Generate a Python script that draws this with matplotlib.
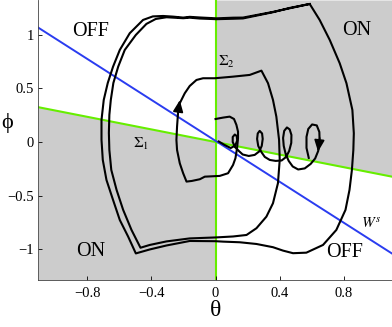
import numpy as np
import matplotlib
matplotlib.use('Agg')
import matplotlib.pyplot as plt

plt.rcParams['font.family'] = ['Liberation Serif', 'DejaVu Serif']
plt.rcParams['mathtext.fontset'] = 'stix'

# axis range and ticks
theta_lim = [-1.105, 1.1]
phi_lim = [-1.287, 1.325]
xticks = [-0.8, -0.4, 0, 0.4, 0.8]
xticklabels = ['\u22120.8', '\u22120.4', '0', '0.4', '0.8']
yticks = [-1, -0.5, 0, 0.5, 1]
yticklabels = ['\u22121', '\u22120.5', '0', '0.5', '1']

# switching line Sigma_1 and stable manifold W^s (end points)
sig1_theta = [-1.105, 1.1]
sig1_phi = [0.325, -0.323]
ws_theta = [-1.105, 1.1]
ws_phi = [1.067, -1.04]

# trajectory starting on Sigma_2 and spiralling out to the cycle
a_inner_theta = [0.0, 0.047, 0.088, 0.115, 0.130, 0.140, 0.140, 0.134, 0.124, 0.109, 0.078,
                 0.026, -0.067, -0.098, -0.148, -0.181, -0.202, -0.223, -0.240, -0.244,
                 -0.240, -0.234, -0.223, -0.192, -0.161, -0.119, -0.078, -0.005, 0.109,
                 0.213, 0.286, 0.327, 0.358, 0.379, 0.396, 0.400, 0.389, 0.358, 0.317,
                 0.255, 0.193, 0.109, 0.0, -0.161, -0.306, -0.410, -0.468]
a_inner_phi = [0.215, 0.228, 0.237, 0.215, 0.160, 0.097, 0.035, -0.058, -0.151, -0.214, -0.291,
               -0.316, -0.323, -0.347, -0.363, -0.369, -0.291, -0.198, -0.074, 0.020,
               0.144, 0.269, 0.362, 0.455, 0.523, 0.579, 0.595, 0.595, 0.610,
               0.626, 0.666, 0.549, 0.393, 0.237, 0.020, -0.167, -0.384, -0.571, -0.696,
               -0.804, -0.867, -0.881, -0.890, -0.899, -0.927, -0.960, -0.986]

a_lap1_theta = [-0.524, -0.576, -0.617, -0.650, -0.662, -0.665, -0.662, -0.653, -0.637,
                -0.607, -0.566, -0.497, -0.431, -0.373, -0.306, -0.202, -0.161, -0.098,
                0.006, 0.109, 0.171, 0.358, 0.462, 0.587,
                0.649, 0.712, 0.774, 0.816, 0.853, 0.862, 0.859, 0.850, 0.835, 0.810,
                0.753, 0.670, 0.566, 0.483, 0.421, 0.358, 0.255, 0.151, 0.047, 0.0,
                -0.161, -0.306, -0.410, -0.497]
a_lap1_phi = [-0.820, -0.633, -0.447, -0.260, -0.074, 0.085, 0.253, 0.393, 0.551,
              0.703, 0.859, 0.999, 1.102, 1.148, 1.164, 1.155, 1.160, 1.152,
              1.146, 1.150, 1.153, 1.211, 1.251, 1.288,
              1.139, 0.952, 0.735, 0.549, 0.299, 0.082, -0.074, -0.261, -0.447, -0.633,
              -0.820, -0.960, -1.032, -1.037, -1.013, -0.981, -0.951, -0.935, -0.929, -0.925,
              -0.923, -0.965, -1.002, -1.039]

a_lap2_theta = [-0.545, -0.597, -0.639, -0.680, -0.703, -0.711, -0.711, -0.697, -0.672,
                -0.639, -0.597, -0.535, -0.452, -0.391, -0.327, -0.265, -0.202, -0.161,
                -0.098, 0.006, 0.109, 0.171, 0.358, 0.587]
a_lap2_phi = [-0.882, -0.727, -0.540, -0.354, -0.167, 0.020, 0.206, 0.393, 0.551,
              0.703, 0.859, 1.015, 1.139, 1.172, 1.176, 1.170, 1.161, 1.168,
              1.162, 1.154, 1.160, 1.161, 1.214, 1.288]

# looping trajectory converging to the origin
b_theta = [0.581, 0.567, 0.567, 0.578, 0.602, 0.631, 0.647, 0.649, 0.640, 0.621, 0.593,
           0.556, 0.515, 0.481, 0.456, 0.437, 0.425, 0.421, 0.428, 0.445, 0.462, 0.473,
           0.472, 0.459, 0.440, 0.412, 0.375, 0.338, 0.307, 0.285, 0.266, 0.259, 0.263,
           0.275, 0.290, 0.294, 0.288, 0.272, 0.244, 0.207, 0.169, 0.145, 0.123, 0.107,
           0.107, 0.120, 0.132, 0.135, 0.123, 0.095, 0.057, 0.020]
b_phi = [-0.148, -0.055, 0.048, 0.122, 0.164, 0.155, 0.094, 0.001, -0.083, -0.153, -0.204,
         -0.246, -0.256, -0.228, -0.176, -0.111, -0.036, 0.038, 0.104, 0.136, 0.118, 0.066,
         -0.008, -0.083, -0.139, -0.172, -0.176, -0.167, -0.139, -0.092, -0.036, 0.029, 0.080,
         0.104, 0.080, 0.029, -0.036, -0.088, -0.120, -0.130, -0.116, -0.083, -0.050, 0.000,
         0.047, 0.070, 0.056, 0.014, -0.032, -0.056, -0.028, 0.005]

# arrow heads (tail, tip)
arrow_a = [(-0.236, 0.253), (-0.223, 0.39)]
arrow_b = [(0.649, 0.038), (0.639, -0.090)]

# region labels
labels = ['OFF', 'ON', 'ON', 'OFF']
label_theta = [-0.78, 0.878, -0.776, 0.805]
label_phi = [1.03, 1.043, -1.025, -1.03]

gray = '#cccccc'
green = '#66ee00'
blue = '#2a3cf0'

fig = plt.figure(figsize=(3.92, 3.27), dpi=100)
ax = fig.add_axes([38.3 / 392, 47 / 327, 353.7 / 392, 280 / 327])

# shaded ON regions
xl = np.linspace(theta_lim[0], 0, 50)
ax.fill_between(xl, phi_lim[0], np.interp(xl, sig1_theta, sig1_phi), color=gray, lw=0, zorder=0)
xr = np.linspace(0, theta_lim[1], 50)
ax.fill_between(xr, np.interp(xr, sig1_theta, sig1_phi), phi_lim[1], color=gray, lw=0, zorder=0)

ax.plot(sig1_theta, sig1_phi, color=green, lw=1.5, zorder=1)
ax.plot([0, 0], phi_lim, color=green, lw=1.5, zorder=1)
ax.plot(ws_theta, ws_phi, color=blue, lw=1.4, zorder=2)

ax.plot(a_inner_theta + a_lap1_theta + a_lap2_theta, a_inner_phi + a_lap1_phi + a_lap2_phi,
        'k', lw=1.5, zorder=3)
ax.plot(b_theta, b_phi, 'k', lw=1.5, zorder=3)

for tail, tip in [arrow_a, arrow_b]:
    ax.annotate('', xy=tip, xytext=tail,
                arrowprops=dict(arrowstyle='-|>,head_length=0.5,head_width=0.22',
                                color='k', lw=1.2, mutation_scale=14, shrinkA=0, shrinkB=0),
                zorder=4)

for s, x, y in zip(labels, label_theta, label_phi):
    ax.text(x, y, s, fontsize=14.5, ha='center', va='center')

ax.text(0.017, 0.75, r'$\Sigma_2$', fontsize=11, ha='left', va='center')
ax.text(-0.514, -0.02, r'$\Sigma_1$', fontsize=11, ha='left', va='center')
ax.text(0.909, -0.764, r'$W^s$', fontsize=11, ha='left', va='center')

ax.set_xlim(theta_lim)
ax.set_ylim(phi_lim)
ax.set_xticks(xticks)
ax.set_xticklabels(xticklabels)
ax.set_yticks(yticks)
ax.set_yticklabels(yticklabels)
ax.tick_params(direction='in', length=3, width=0.6, labelsize=10.5, colors='k')
ax.tick_params(axis='x', pad=5)
ax.tick_params(axis='y', pad=3)
for side in ['top', 'right']:
    ax.spines[side].set_visible(False)
for side in ['left', 'bottom']:
    ax.spines[side].set_linewidth(0.6)
    ax.spines[side].set_color('#444444')

ax.set_xlabel('\u03b8', fontsize=17, labelpad=0)
ax.set_ylabel('\u03d5', fontsize=16, rotation=0, va='center', ha='center')
ax.yaxis.set_label_coords(-0.088, 0.56)

fig.savefig('out.png', dpi=100)
